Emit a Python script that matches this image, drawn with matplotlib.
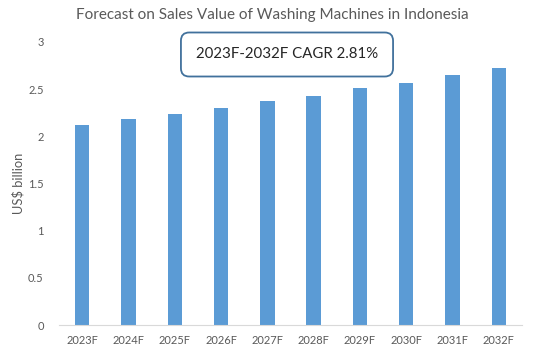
import matplotlib
matplotlib.use("Agg")
import matplotlib.pyplot as plt

# data
years = ["2023F", "2024F", "2025F", "2026F", "2027F",
         "2028F", "2029F", "2030F", "2031F", "2032F"]
sales_bn = [2.12, 2.18, 2.24, 2.30, 2.37, 2.43, 2.51, 2.57, 2.65, 2.72]
y_ticks = [0, 0.5, 1, 1.5, 2, 2.5, 3]
y_tick_labels = ["0", "0.5", "1", "1.5", "2", "2.5", "3"]
cagr_text = "2023F-2032F CAGR 2.81%"

BAR = "#5B9BD5"
GREY = "#595959"

plt.rcParams["font.family"] = ["Lato", "DejaVu Sans"]

fig = plt.figure(figsize=(5.5, 3.52), dpi=100)
ax = fig.add_axes([59 / 550, 1 - 325 / 352, (522 - 59) / 550, (325 - 42) / 352])

ax.bar(range(len(years)), sales_bn, width=0.31, color=BAR)
ax.set_xlim(-0.5, len(years) - 0.5)
ax.set_ylim(0, 3)
ax.set_xticks(range(len(years)))
ax.set_xticklabels(years)
ax.set_yticks(y_ticks)
ax.set_yticklabels(y_tick_labels)
ax.tick_params(axis="both", length=0, labelsize=8, colors=GREY)
ax.tick_params(axis="y", pad=11)
ax.tick_params(axis="x", pad=7)

for side in ("top", "right", "left"):
    ax.spines[side].set_visible(False)
ax.spines["bottom"].set_color("#D9D9D9")

fig.text(18 / 550, 1 - 183 / 352, "US$ billion", rotation=90, ha="center", va="center",
         fontsize=9.3, color=GREY)
fig.text(272 / 550, 1 - 15 / 352, "Forecast on Sales Value of Washing Machines in Indonesia",
         ha="center", va="center", fontsize=11, color=GREY)

fig.text(287 / 550, 1 - 54.5 / 352, cagr_text, ha="center", va="center",
         fontsize=10.8, color="#262626",
         bbox=dict(boxstyle="round,pad=1.0,rounding_size=0.55", fc="white",
                   ec="#41719C", lw=1.3))

fig.savefig("out.png", dpi=100)
